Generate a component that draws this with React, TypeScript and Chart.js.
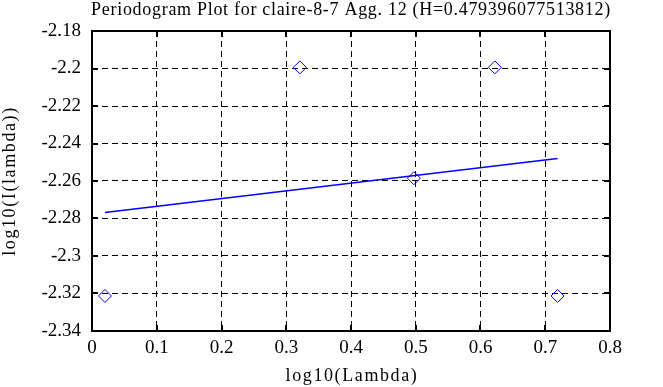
import React, { useEffect, useRef } from "react";
import { Chart, registerables } from "chart.js";

Chart.register(...registerables);

const titleText = "Periodogram Plot for claire-8-7 Agg. 12 (H=0.479396077513812)";
const xTitle = "log10(Lambda)";
const yTitle = "log10(I(lambda))";

const xLambda = [0.02, 0.321, 0.4971, 0.6221, 0.719];
const yPeriodogram = [-2.3213, -2.1994, -2.2585, -2.1994, -2.3213];

const fitX = [0.02, 0.719];
const fitY = [-2.2768, -2.248];

const xTickValues = [0, 0.1, 0.2, 0.3, 0.4, 0.5, 0.6, 0.7, 0.8];
const yTickValues = [-2.34, -2.32, -2.3, -2.28, -2.26, -2.24, -2.22, -2.2, -2.18];

const FONT = "'Liberation Serif', 'Times New Roman', serif";

const framePlugin = {
  id: "frameAndTitle",
  afterDraw(chart: any) {
    const { ctx, chartArea } = chart;
    const { left, right, top, bottom } = chartArea;
    const xs = chart.scales.x;
    const ys = chart.scales.y;
    ctx.save();
    ctx.setLineDash([]);
    ctx.strokeStyle = "#000";
    ctx.lineWidth = 2;
    const tl = 6;
    xTickValues.forEach((v) => {
      const px = Math.round(xs.getPixelForValue(v));
      ctx.beginPath();
      ctx.moveTo(px, bottom);
      ctx.lineTo(px, bottom - tl);
      ctx.moveTo(px, top);
      ctx.lineTo(px, top + tl);
      ctx.stroke();
    });
    yTickValues.forEach((v) => {
      const py = Math.round(ys.getPixelForValue(v));
      ctx.beginPath();
      ctx.moveTo(left, py);
      ctx.lineTo(left + tl, py);
      ctx.moveTo(right, py);
      ctx.lineTo(right - tl, py);
      ctx.stroke();
    });
    ctx.lineWidth = 2;
    ctx.strokeRect(left, top, right - left, bottom - top);
    ctx.fillStyle = "#000";
    ctx.textAlign = "center";
    // main title
    ctx.font = `18px ${FONT}`;
    try {
      (ctx as any).letterSpacing = "0.7px";
    } catch (e) {}
    ctx.textBaseline = "alphabetic";
    ctx.fillText(titleText, (left + right) / 2, 15);
    // x axis title
    try {
      (ctx as any).letterSpacing = "1.6px";
    } catch (e) {}
    ctx.textBaseline = "middle";
    ctx.fillText(xTitle, (left + right) / 2 + 1, 376);
    // y axis title
    ctx.translate(10, (top + bottom) / 2);
    ctx.rotate(-Math.PI / 2);
    ctx.fillText(yTitle, 0, 0);
    ctx.restore();
  },
};

export default function App() {
  const ref = useRef<HTMLCanvasElement | null>(null);

  useEffect(() => {
    if (!ref.current) return;
    const chart = new Chart(ref.current, {
      type: "scatter",
      data: {
        datasets: [
          {
            label: "periodogram",
            data: xLambda.map((x, i) => ({ x, y: yPeriodogram[i] })),
            pointStyle: "rectRot",
            pointRadius: 6.5,
            pointHoverRadius: 6.5,
            borderColor: "#0000ff",
            backgroundColor: "rgba(0,0,0,0)",
            borderWidth: 1,
            showLine: false,
          },
          {
            label: "fit",
            data: fitX.map((x, i) => ({ x, y: fitY[i] })),
            showLine: true,
            pointRadius: 0,
            borderColor: "#0000ff",
            backgroundColor: "#0000ff",
            borderWidth: 1.5,
          },
        ],
      },
      options: {
        responsive: false,
        animation: false,
        devicePixelRatio: 1,
        layout: { padding: { top: 31, right: 53, left: 0, bottom: 0 } },
        plugins: {
          legend: { display: false },
          title: { display: false },
          tooltip: { enabled: false },
        },
        scales: {
          x: {
            type: "linear",
            min: 0,
            max: 0.8,
            afterBuildTicks: (s: any) => {
              s.ticks = xTickValues.map((v) => ({ value: v }));
            },
            afterFit: (s: any) => {
              s.height = 56;
            },
            ticks: {
              color: "#000",
              font: { family: FONT, size: 19 },
              padding: 6,
              maxRotation: 0,
              autoSkip: false,
              callback: (v: any) => String(Number(Number(v).toFixed(2))),
            },
            grid: {
              color: "#000",
              lineWidth: 1,
              drawTicks: false,
              tickLength: 0,
            },
            border: { display: false, dash: [6, 4] },
            title: { display: false },
          },
          y: {
            type: "linear",
            min: -2.34,
            max: -2.18,
            afterBuildTicks: (s: any) => {
              s.ticks = yTickValues.map((v) => ({ value: v }));
            },
            afterFit: (s: any) => {
              s.width = 92;
            },
            ticks: {
              color: "#000",
              font: { family: FONT, size: 19 },
              padding: 11,
              autoSkip: false,
              callback: (v: any) => String(Number(Number(v).toFixed(2))),
            },
            grid: {
              color: "#000",
              lineWidth: 1,
              drawTicks: false,
              tickLength: 0,
            },
            border: { display: false, dash: [6, 4] },
            title: { display: false },
          },
        },
      },
      plugins: [framePlugin],
    });
    return () => chart.destroy();
  }, []);

  return (
    <canvas
      ref={ref}
      width={663}
      height={387}
      style={{ position: "fixed", left: 0, top: 0, width: 663, height: 387, display: "block", background: "#fff" }}
    />
  );
}
